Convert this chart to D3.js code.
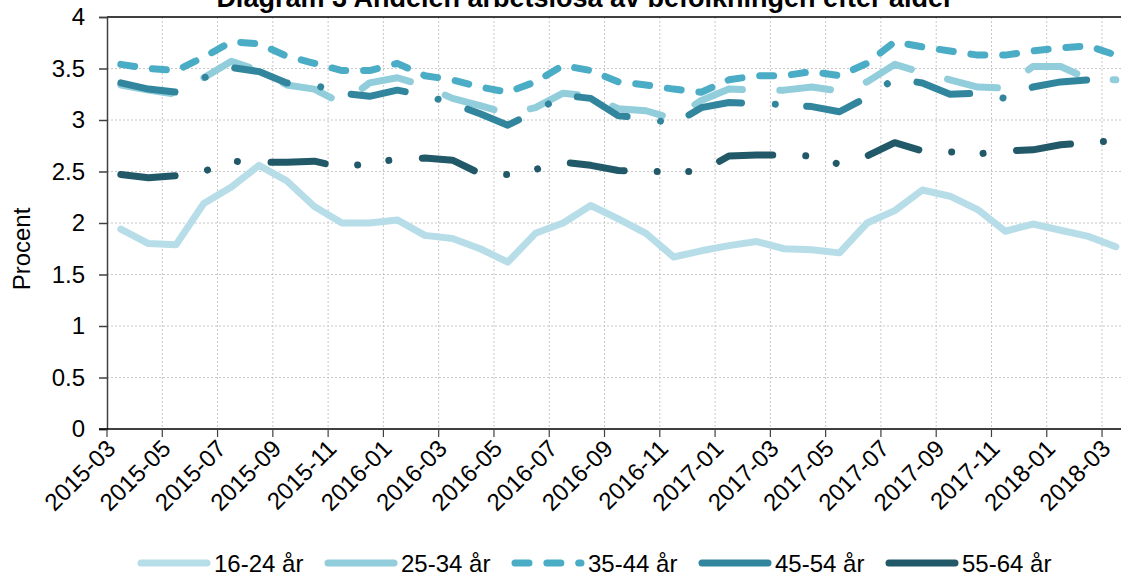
<!DOCTYPE html>
<html lang="sv">
<head>
<meta charset="utf-8">
<style>
  body { margin: 0; background: #fff; }
  svg { display: block; font-family: "Liberation Sans", Arial, sans-serif; }
  .grid line { stroke: #c8c8c8; stroke-width: 1; stroke-dasharray: 2,2; }
  .serie { fill: none; stroke-width: 7; stroke-linecap: round; stroke-linejoin: round; }
</style>
</head>
<body>
<script src="https://d3js.org/d3.v7.min.js"></script>
<script>
// months 2015-03 .. 2018-03
var months = [];
for (var yr = 2015; yr <= 2018; yr++) {
  for (var m = 1; m <= 12; m++) {
    var lab = yr + "-" + (m < 10 ? "0" + m : m);
    if (lab >= "2015-03" && lab <= "2018-03") months.push(lab);
  }
}
var yTicks = [0, 0.5, 1, 1.5, 2, 2.5, 3, 3.5, 4];

var names = ["16-24 år", "25-34 år", "35-44 år", "45-54 år", "55-64 år"];
var colors = ["#b7dee8", "#92cddc", "#4bacc6", "#31859c", "#215968"];
// Excel style: long dash, dash, long dash-dot, long dash-dot-dot
var dashes = [null, "51,37.4", "14,17.85", "55,33.8,0.01,31.4", "54.5,33,0.01,31.5,0.01,33.6"];

var v1624 = [1.94,1.80,1.79,2.19,2.35,2.56,2.41,2.16,2.00,2.00,2.03,1.88,1.85,1.75,1.62,1.90,2.00,2.17,2.04,1.90,1.67,1.73,1.78,1.82,1.75,1.74,1.71,2.00,2.12,2.32,2.26,2.13,1.92,1.99,1.93,1.87,1.77];
var v2534 = [3.34,3.29,3.25,3.41,3.57,3.48,3.34,3.30,3.16,3.36,3.41,3.33,3.21,3.14,3.06,3.12,3.26,3.23,3.11,3.09,3.01,3.19,3.30,3.29,3.29,3.32,3.28,3.37,3.54,3.46,3.39,3.32,3.31,3.52,3.52,3.40,3.39];
var v3544 = [3.54,3.50,3.48,3.61,3.76,3.74,3.62,3.55,3.48,3.48,3.55,3.43,3.39,3.32,3.27,3.37,3.53,3.48,3.37,3.34,3.30,3.27,3.39,3.43,3.43,3.47,3.43,3.55,3.76,3.71,3.67,3.63,3.63,3.67,3.70,3.72,3.63];
var v4554 = [3.36,3.30,3.27,3.41,3.51,3.47,3.36,3.34,3.26,3.23,3.29,3.24,3.16,3.06,2.95,3.08,3.24,3.21,3.04,3.02,2.96,3.12,3.17,3.16,3.15,3.13,3.08,3.22,3.40,3.36,3.25,3.26,3.21,3.32,3.37,3.39,3.40];
var v5564 = [2.47,2.44,2.46,2.50,2.60,2.59,2.59,2.60,2.54,2.58,2.62,2.63,2.61,2.48,2.47,2.52,2.59,2.56,2.51,2.50,2.50,2.50,2.65,2.66,2.66,2.65,2.57,2.65,2.78,2.70,2.69,2.67,2.70,2.71,2.76,2.78,2.80];
var allValues = [v1624, v2534, v3544, v4554, v5564];

var width = 1121, height = 580;
var plotLeft = 107, plotTop = 17, plotBottom = 429;
var band = 27.64;

var svg = d3.select("body").append("svg")
  .attr("width", width)
  .attr("height", height);

var x = d3.scaleBand().domain(months).range([plotLeft, plotLeft + band * months.length]);
var y = d3.scaleLinear().domain([0, 4]).range([plotBottom, plotTop]);
function xc(m) { return x(m) + x.bandwidth() / 2; }

// grid
var grid = svg.append("g").attr("class", "grid");
grid.selectAll(".gx")
  .data(months.filter(function (d, i) { return i % 2 == 0 && i > 0; }))
  .enter().append("line")
  .attr("x1", function (d) { return x(d); })
  .attr("x2", function (d) { return x(d); })
  .attr("y1", plotTop).attr("y2", plotBottom);
grid.selectAll(".gy")
  .data(yTicks.filter(function (d) { return d > 0 && d < 4; }))
  .enter().append("line")
  .attr("x1", plotLeft).attr("x2", width)
  .attr("y1", function (d) { return y(d); })
  .attr("y2", function (d) { return y(d); });

// top border
svg.append("line")
  .attr("x1", plotLeft).attr("x2", width)
  .attr("y1", y(4)).attr("y2", y(4))
  .attr("stroke", "#000").attr("stroke-width", 1.5);

// y axis
var yAxis = svg.append("g")
  .attr("transform", "translate(" + plotLeft + ",0)")
  .call(d3.axisLeft(y).tickValues(yTicks).tickSize(8).tickPadding(14)
    .tickFormat(function (d) { return String(d); }));
yAxis.select(".domain").attr("stroke", "#404040").attr("stroke-width", 1.5);
yAxis.selectAll(".tick line").attr("stroke", "#404040").attr("stroke-width", 1.5);
yAxis.selectAll(".tick text")
  .attr("font-size", 24).attr("fill", "#000")
  .attr("font-family", "Liberation Sans, Arial, sans-serif");

// x axis
var xAxis = svg.append("g").attr("transform", "translate(0," + plotBottom + ")");
xAxis.append("line")
  .attr("x1", plotLeft - 8).attr("x2", width)
  .attr("stroke", "#000").attr("stroke-width", 1.5);
xAxis.selectAll(".xt")
  .data(months.filter(function (d, i) { return i % 2 == 0; }))
  .enter().append("line")
  .attr("x1", function (d) { return x(d); })
  .attr("x2", function (d) { return x(d); })
  .attr("y1", 0).attr("y2", 8)
  .attr("stroke", "#404040").attr("stroke-width", 1.2);
xAxis.selectAll(".xl")
  .data(months.filter(function (d, i) { return i % 2 == 0; }))
  .enter().append("text")
  .attr("transform", function (d) {
    return "translate(" + (xc(d) - 4) + ",21) rotate(-45)";
  })
  .attr("text-anchor", "end")
  .attr("font-size", 24)
  .text(function (d) { return d; });

// y label
svg.append("text")
  .attr("transform", "translate(30,249) rotate(-90)")
  .attr("text-anchor", "middle")
  .attr("font-size", 24)
  .text("Procent");

// title (cut off at the top, as in the original)
svg.append("text")
  .attr("x", 585).attr("y", 7)
  .attr("text-anchor", "middle")
  .attr("font-size", 27)
  .attr("font-weight", "bold")
  .text("Diagram 3 Andelen arbetslösa av befolkningen efter ålder");

// lines
var line = d3.line()
  .x(function (d, i) { return xc(months[i]); })
  .y(function (d) { return y(d); });

svg.selectAll(".serie")
  .data(allValues)
  .enter().append("path")
  .attr("class", "serie")
  .attr("d", line)
  .attr("stroke", function (d, i) { return colors[i]; })
  .attr("stroke-dasharray", function (d, i) { return dashes[i]; });

// legend
var legend = svg.append("g").attr("transform", "translate(141,563)");
var item = legend.selectAll(".leg")
  .data(names)
  .enter().append("g")
  .attr("transform", function (d, i) { return "translate(" + (i * 187) + ",0)"; });
item.append("line")
  .attr("x1", 0).attr("x2", 66)
  .attr("stroke", function (d, i) { return colors[i]; })
  .attr("stroke-width", 7)
  .attr("stroke-linecap", "round")
  .attr("stroke-dasharray", function (d, i) { return i == 2 ? dashes[i] : null; });
item.append("text")
  .attr("x", 73).attr("y", 8.5)
  .attr("font-size", 24)
  .text(function (d) { return d; });
</script>
</body>
</html>
